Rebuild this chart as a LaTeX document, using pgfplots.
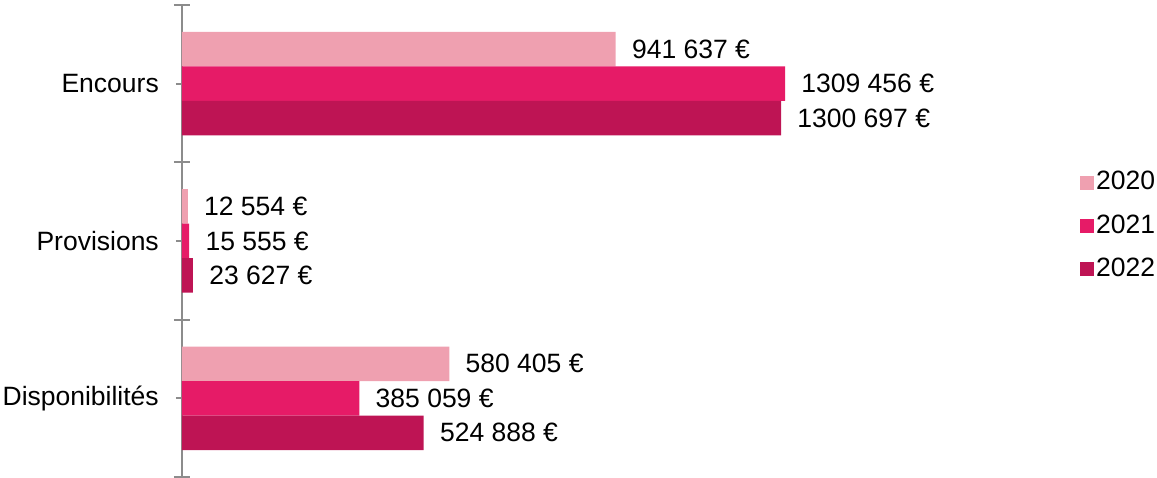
\documentclass[border=0pt]{standalone}
\usepackage{pgfplots}
\pgfplotsset{compat=1.18}
\usepackage{fontspec}
\setmainfont{Liberation Sans}
\definecolor{c20}{HTML}{EFA0B0}
\definecolor{c21}{HTML}{E61B67}
\definecolor{c22}{HTML}{BE1454}
\definecolor{axgray}{HTML}{8C8C8C}
\begin{document}
\fontsize{13.25bp}{15.9bp}\selectfont
\begin{tikzpicture}
\begin{axis}[
  at={(0,0)}, anchor=south west,
  scale only axis, width=437.5bp, height=236bp,
  xmin=0, xmax=1900000, ymin=-0.5, ymax=2.5,
  xbar, bar width=17.25bp,
  axis x line=none, axis y line*=left,
  y axis line style={draw=axgray, line width=1.1bp},
  ytick={0,1,2}, yticklabels={Disponibilités,Provisions,Encours},
  major tick length=6bp, tick align=center,
  ytick style={draw=axgray, line width=1.1bp},
  extra y ticks={-0.5,0.5,1.5,2.5}, extra y tick labels={},
  extra y tick style={major tick length=8bp, tick align=center},
  yticklabel style={font=\fontsize{13.25bp}{15.9bp}\selectfont, text=black, xshift=-4bp},
  nodes near coords, point meta=explicit symbolic,
  nodes near coords style={anchor=west, inner sep=0pt, xshift=8bp, text=black, font=\fontsize{13.25bp}{15.9bp}\selectfont},
  legend style={at={(1.0263,0.532)}, anchor=west, draw=none, fill=none, row sep=8.5bp,
    font=\fontsize{13.25bp}{15.9bp}\selectfont, inner sep=0pt, nodes={inner sep=1bp}},
  legend cell align=left,
]
\addlegendimage{legend image code/.code={\fill[c20] (0bp,-3.25bp) rectangle (6.5bp,3.25bp);}}
\addlegendentry{2020}
\addlegendimage{legend image code/.code={\fill[c21] (0bp,-3.25bp) rectangle (6.5bp,3.25bp);}}
\addlegendentry{2021}
\addlegendimage{legend image code/.code={\fill[c22] (0bp,-3.25bp) rectangle (6.5bp,3.25bp);}}
\addlegendentry{2022}
\addplot[fill=c20, draw=none, bar shift=17.25bp, forget plot] coordinates {(941637,2) [941 637 €] (12554,1) [12 554 €] (580405,0) [580 405 €]};
\addplot[fill=c21, draw=none, bar shift=0bp, forget plot] coordinates {(1309456,2) [1309 456 €] (15555,1) [15 555 €] (385059,0) [385 059 €]};
\addplot[fill=c22, draw=none, bar shift=-17.25bp, forget plot] coordinates {(1300697,2) [1300 697 €] (23627,1) [23 627 €] (524888,0) [524 888 €]};
\end{axis}
\pgfresetboundingbox
\path (-91bp,-0.5bp) rectangle (487.5bp,238.5bp);
\end{tikzpicture}
\end{document}
